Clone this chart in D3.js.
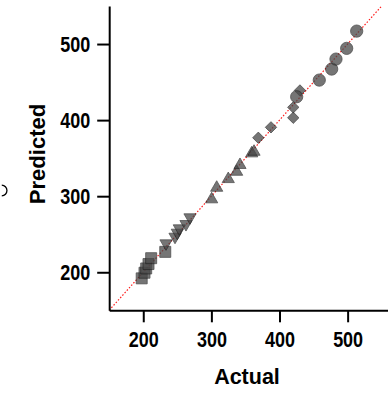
<!DOCTYPE html>
<html><head><meta charset="utf-8">
<script src="https://cdn.jsdelivr.net/npm/d3@7"></script>
<style>html,body{margin:0;padding:0;background:#fff;}svg{display:block;}</style>
</head><body>
<svg id="c" width="388" height="395"></svg>
<script>
// ---- data (Actual, Predicted) ----
const squareActual    = [197.7, 201.8, 204.3, 207.7, 211.6, 232.3];
const squarePredicted = [192.0, 199.4, 205.0, 210.8, 218.5, 226.8];
const downTriActual    = [233.4, 246.6, 250.0, 252.9, 262.7, 268.6];
const downTriPredicted = [238.0, 246.7, 252.0, 257.7, 263.4, 272.2];
const upTriActual    = [300.4, 307.8, 324.8, 337.1, 342.0, 359.2, 362.6];
const upTriPredicted = [295.9, 311.1, 322.5, 332.1, 341.0, 356.3, 358.4];
const diamondActual    = [368.9, 387.5, 420.2, 420.2, 430.0];
const diamondPredicted = [376.8, 390.5, 403.1, 416.8, 439.0];
const circleActual    = [425.2, 458.4, 476.6, 482.9, 498.6, 513.3];
const circlePredicted = [430.7, 452.6, 467.1, 480.2, 494.3, 517.0];
const xTicks = [200, 300, 400, 500];
const yTicks = [200, 300, 400, 500];
const xDomain = [150, 560];
const yDomain = [150, 550];
const lineRange = [150, 550];

const svg = d3.select("#c");
const x = d3.scaleLinear().domain(xDomain).range([109.2, 388.5]);
const y = d3.scaleLinear().domain(yDomain).range([310.3, 6]);

// identity line
svg.append("line")
  .attr("x1", x(lineRange[0])).attr("y1", y(lineRange[0]))
  .attr("x2", x(lineRange[1])).attr("y2", y(lineRange[1]))
  .attr("stroke", "#ff1a1a").attr("stroke-width", 1.2)
  .attr("stroke-dasharray", "1.5,1.8");

const groups = [
  {a: squareActual, p: squarePredicted, type: d3.symbolSquare, size: 121, rot: 0},
  {a: downTriActual, p: downTriPredicted, type: d3.symbolTriangle, size: 64, rot: 180},
  {a: upTriActual, p: upTriPredicted, type: d3.symbolTriangle, size: 64, rot: 0},
  {a: diamondActual, p: diamondPredicted, type: d3.symbolSquare, size: 64, rot: 45},
  {a: circleActual, p: circlePredicted, type: d3.symbolCircle, size: 118, rot: 0}
];
groups.forEach(g => {
  const pts = g.a.map((v, i) => [v, g.p[i]]);
  svg.append("g").selectAll("path").data(pts).join("path")
    .attr("d", d3.symbol().type(g.type).size(g.size)())
    .attr("transform", d => `translate(${x(d[0])},${y(d[1])}) rotate(${g.rot})`)
    .attr("fill", "#474747").attr("stroke", "#1a1a1a").attr("stroke-width", 0.8)
    .attr("opacity", 0.75);
});

// axes
const font = "'Liberation Sans', Arial, Helvetica, sans-serif";
const xAxis = svg.append("g").attr("transform", `translate(0,${y(yDomain[0])})`)
  .call(d3.axisBottom(x).tickValues(xTicks).tickSize(12).tickSizeOuter(0).tickPadding(9).tickFormat(d3.format("d")));
const yAxis = svg.append("g").attr("transform", `translate(${x(xDomain[0])},0)`)
  .call(d3.axisLeft(y).tickValues(yTicks).tickSize(12).tickSizeOuter(0).tickPadding(7).tickFormat(d3.format("d")));
[xAxis, yAxis].forEach(ax => {
  ax.select(".domain").attr("stroke", "#000").attr("stroke-width", 2);
  ax.selectAll(".tick line").attr("stroke", "#000").attr("stroke-width", 2);
  ax.selectAll(".tick text").attr("fill", "#000")
    .style("font-family", font).style("font-weight", "bold").style("font-size", "22px")
    .attr("textLength", 30).attr("lengthAdjust", "spacingAndGlyphs");
});
xAxis.selectAll(".tick text").attr("dy", "0.71em");
yAxis.selectAll(".tick text").attr("dy", "0.35em");

// titles
svg.append("text").attr("x", 247).attr("y", 384).attr("text-anchor", "middle")
  .style("font-family", font).style("font-weight", "bold").style("font-size", "21.5px")
  .text("Actual");
svg.append("text").attr("transform", "translate(45,154) rotate(-90)").attr("text-anchor", "middle")
  .style("font-family", font).style("font-weight", "bold").style("font-size", "22px")
  .text("Predicted");
// clipped fragment from neighbouring panel at left edge
svg.append("path")
  .attr("d", d3.arc()({innerRadius: 4.8, outerRadius: 6.1, startAngle: 0.05, endAngle: Math.PI - 0.05}))
  .attr("transform", "translate(1.5,190.5)")
  .attr("fill", "#000");
</script>
</body></html>
